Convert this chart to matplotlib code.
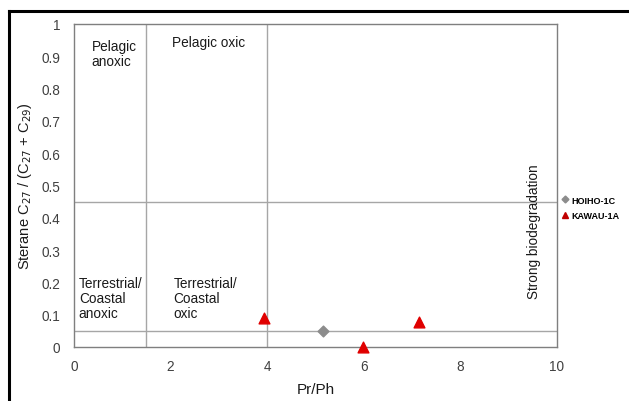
import matplotlib.pyplot as plt
from matplotlib.lines import Line2D

plt.rcParams['font.family'] = ['Liberation Sans', 'DejaVu Sans']

# samples
hoiho_prph = [5.16]
hoiho_ster = [0.05]
kawau_prph = [3.93, 5.98, 7.14]
kawau_ster = [0.09, 0.0, 0.078]

# zone boundaries
zone_x = [1.5, 4.0]
zone_y = [0.45, 0.05]

xticks = [0, 2, 4, 6, 8, 10]
yticks = [0, 0.1, 0.2, 0.3, 0.4, 0.5, 0.6, 0.7, 0.8, 0.9, 1]
ytick_labels = ['0', '0.1', '0.2', '0.3', '0.4', '0.5', '0.6', '0.7', '0.8', '0.9', '1']

fig = plt.figure(figsize=(6.29, 4.02), dpi=100)
ax = fig.add_axes([74 / 629, 1 - 348 / 402, 483 / 629, 323 / 402])

# outer frame (top and left only)
fig.add_artist(Line2D([9 / 629, 1], [1 - 12 / 402, 1 - 12 / 402], color='black', lw=2.2,
                      transform=fig.transFigure))
fig.add_artist(Line2D([9 / 629, 9 / 629], [0, 1 - 12 / 402], color='black', lw=2.2,
                      transform=fig.transFigure))

line_c = '#a6a6a6'
ax.plot([zone_x[0], zone_x[0]], [0, 1], color=line_c, lw=1, zorder=1)
ax.plot([zone_x[1], zone_x[1]], [0, 1], color=line_c, lw=1, zorder=1)
ax.plot([0, 10], [zone_y[0], zone_y[0]], color=line_c, lw=1, zorder=1)
ax.plot([0, 10], [zone_y[1], zone_y[1]], color=line_c, lw=1, zorder=1)

ax.scatter(hoiho_prph, hoiho_ster, marker='D', s=30, color='#8c8c8c', zorder=3,
           clip_on=False)
ax.scatter(kawau_prph, kawau_ster, marker='^', s=60, color='#e00000', zorder=3,
           clip_on=False)

txt = dict(fontsize=9.8, color='#1a1a1a', va='top', ha='left')
ax.text(0.37, 0.955, 'Pelagic\nanoxic', linespacing=1.1, **txt)
ax.text(2.02, 0.965, 'Pelagic oxic', **txt)
ax.text(0.1, 0.22, 'Terrestrial/\nCoastal\nanoxic', linespacing=1.1, **txt)
ax.text(2.06, 0.22, 'Terrestrial/\nCoastal\noxic', linespacing=1.1, **txt)
ax.text(9.52, 0.36, 'Strong biodegradation', fontsize=9.8, color='#1a1a1a',
        rotation=90, ha='center', va='center')

ax.set_xlim(0, 10)
ax.set_ylim(0, 1)
ax.set_xticks(xticks)
ax.set_yticks(yticks)
ax.set_yticklabels(ytick_labels)
ax.tick_params(length=0, labelsize=9.8, labelcolor='#404040', pad=10)
ax.tick_params(axis='x', pad=9)
for s in ax.spines.values():
    s.set_color('#7f7f7f')
    s.set_linewidth(1)

ax.set_xlabel('Pr/Ph', fontsize=11, color='#1a1a1a', labelpad=6)
ax.set_ylabel('Sterane C$_{27}$ / (C$_{27}$ + C$_{29}$)', fontsize=10.5, color='#1a1a1a',
              labelpad=5)

handles = [
    Line2D([], [], marker='D', color='#8c8c8c', ls='', markersize=3.5, label='HOIHO-1C'),
    Line2D([], [], marker='^', color='#c00000', ls='', markersize=5, label='KAWAU-1A'),
]
leg = fig.legend(handles=handles, loc='upper left', bbox_to_anchor=(558 / 629, 1 - 193 / 402),
                 frameon=False, prop={'size': 6.5, 'weight': 'bold'}, handlelength=0.8,
                 handletextpad=0.3, labelspacing=0.75, borderaxespad=0)

fig.savefig('out.png', dpi=100)
